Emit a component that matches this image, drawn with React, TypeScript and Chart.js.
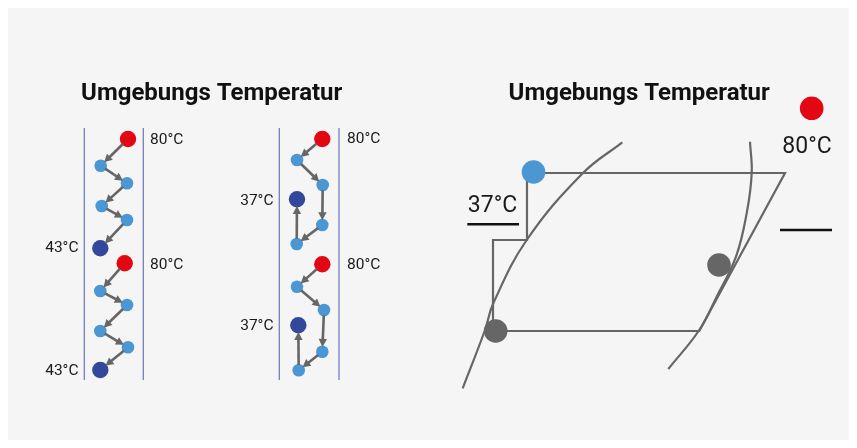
import React, { useEffect, useRef } from "react";
import { Chart, registerables } from "chart.js";

Chart.register(...registerables);

// ---- data (diagram coordinates) ----
const chainA1 = [[128, 139], [100.7, 165.7], [127, 183.3], [101.7, 206], [127, 220], [100.3, 248.3]];
const chainA2 = [[124.7, 263.3], [100.3, 291], [127, 305], [100.3, 331], [128, 347.3], [100.3, 370]];
const chainB1 = [[322.3, 139], [297, 160], [322.7, 185], [322.3, 225], [296.7, 244], [297, 199.3]];
const chainB2 = [[322.3, 264.3], [297, 286.7], [324, 310], [322.3, 351.7], [298.7, 370.3], [298.3, 325.3]];

const railX = [84.3, 143.3, 279.3, 339];
const railY = [128, 380];

const curveL = [[462.7, 388.3], [485, 330], [493.3, 303.3], [526.7, 240], [582.7, 173.3], [622.3, 142.3]];
const curveR = [[750, 141.7], [751.7, 173.3], [746.7, 213.3], [736, 256.7], [716.7, 296.7], [699.3, 330], [668.3, 369]];
const cycle = [[527, 173], [785, 173], [699.3, 331], [493, 331], [493, 240], [527, 240], [527, 173]];
const statePts = [[533.5, 172], [719, 265], [495.7, 331], [811.7, 108.3]];
const stateKinds = ["warm", "gray", "gray", "hot"];
const barA = [[467.3, 224.3], [519, 224.3]];
const barB = [[780, 230], [832, 230]];

const titleText = ["Umgebungs Temperatur", "Umgebungs Temperatur"];
const titleX = [211.7, 639.2];
const titleY = [93.5, 93.5];

const labelText = ["80°C", "43°C", "80°C", "43°C", "80°C", "37°C", "80°C", "37°C", "80°C", "37°C"];
const labelX = [150, 78.5, 150, 78.5, 347, 273.5, 347, 273.5, 807, 492.5];
const labelY = [140, 248, 265.5, 371, 139.5, 201, 265, 326, 147.3, 206.7];
const labelAlign = ["left", "right", "left", "right", "left", "right", "left", "right", "center", "center"];
const labelBig = [false, false, false, false, false, false, false, false, true, true];

// ---- styles ----
const RED = "#e30613";
const LIGHT = "#4a97d4";
const DARK = "#33479b";
const GRAY = "#666666";
const RAIL = "#7480bf";
const BG = "#f5f5f5";

const toPts = (arr: number[][]) => arr.map(([x, y]) => ({ x, y }));

const chainColor = (i: number, n: number) => (i === 0 ? RED : i === n - 1 ? DARK : LIGHT);
const chainRadius = (i: number, n: number) => (i === 0 || i === n - 1 ? 8.2 : 6.3);

const stateColor = (k: string) => (k === "hot" ? RED : k === "warm" ? LIGHT : GRAY);

const diagramPlugin = {
  id: "diagramDecor",
  afterDatasetsDraw(chart: any) {
    const ctx = chart.ctx;
    const xs = chart.scales.x;
    const ys = chart.scales.y;
    // arrows
    chart.data.datasets.forEach((ds: any, di: number) => {
      if (!ds.arrowChain) return;
      const meta = chart.getDatasetMeta(di);
      const n = meta.data.length;
      for (let j = 0; j < n - 1; j++) {
        const p = meta.data[j];
        const q = meta.data[j + 1];
        const dx = q.x - p.x;
        const dy = q.y - p.y;
        const len = Math.hypot(dx, dy);
        const ux = dx / len;
        const uy = dy / len;
        const r1 = chainRadius(j, n);
        const r2 = chainRadius(j + 1, n);
        const sx = p.x + ux * (r1 - 1);
        const sy = p.y + uy * (r1 - 1);
        const ex = q.x - ux * (r2 - 1.5);
        const ey = q.y - uy * (r2 - 1.5);
        const hl = 8;
        const hw = 4.2;
        const bx = ex - ux * hl;
        const by = ey - uy * hl;
        ctx.save();
        ctx.strokeStyle = GRAY;
        ctx.fillStyle = GRAY;
        ctx.lineWidth = 2.6;
        ctx.beginPath();
        ctx.moveTo(sx, sy);
        ctx.lineTo(bx + ux * 1, by + uy * 1);
        ctx.stroke();
        ctx.beginPath();
        ctx.moveTo(ex, ey);
        ctx.lineTo(bx - uy * hw, by + ux * hw);
        ctx.lineTo(bx + uy * hw, by - ux * hw);
        ctx.closePath();
        ctx.fill();
        ctx.restore();
      }
    });
    // titles
    ctx.save();
    ctx.fillStyle = "#111111";
    ctx.textBaseline = "middle";
    ctx.textAlign = "center";
    ctx.font = "bold 24px Roboto, 'Noto Sans', sans-serif";
    titleText.forEach((t, i) => {
      ctx.fillText(t, xs.getPixelForValue(titleX[i]), ys.getPixelForValue(titleY[i]));
    });
    // labels
    labelText.forEach((t, i) => {
      ctx.font = labelBig[i] ? "23px Roboto, sans-serif" : "15.5px Roboto, sans-serif";
      ctx.fillStyle = "#1a1a1a";
      ctx.textAlign = labelAlign[i] as CanvasTextAlign;
      ctx.fillText(t, xs.getPixelForValue(labelX[i]), ys.getPixelForValue(labelY[i]));
    });
    ctx.restore();
  },
};

export default function App() {
  const ref = useRef<HTMLCanvasElement | null>(null);

  useEffect(() => {
    if (!ref.current) return;
    const chains = [chainA1, chainA2, chainB1, chainB2];
    const datasets: any[] = [];

    chains.forEach((c) => {
      const n = c.length;
      datasets.push({
        data: toPts(c),
        arrowChain: true,
        showLine: false,
        pointRadius: c.map((_, i) => chainRadius(i, n)),
        pointBackgroundColor: c.map((_, i) => chainColor(i, n)),
        pointBorderWidth: 0,
        pointBorderColor: "transparent",
        order: 0,
      });
    });

    datasets.push({
      data: toPts(statePts),
      showLine: false,
      pointRadius: 11.8,
      pointBackgroundColor: stateKinds.map(stateColor),
      pointBorderWidth: 0,
      pointBorderColor: "transparent",
      order: 0,
    });

    railX.forEach((x) => {
      datasets.push({
        data: railY.map((y) => ({ x, y })),
        showLine: true,
        borderColor: RAIL,
        borderWidth: 1.3,
        pointRadius: 0,
        order: 2,
      });
    });

    [curveL, curveR].forEach((c) => {
      datasets.push({
        data: toPts(c),
        showLine: true,
        borderColor: GRAY,
        borderWidth: 2.2,
        pointRadius: 0,
        tension: 0.4,
        order: 2,
      });
    });

    datasets.push({
      data: toPts(cycle),
      showLine: true,
      borderColor: GRAY,
      borderWidth: 2.2,
      pointRadius: 0,
      tension: 0,
      order: 2,
    });

    [barA, barB].forEach((b) => {
      datasets.push({
        data: toPts(b),
        showLine: true,
        borderColor: "#111111",
        borderWidth: 2.6,
        pointRadius: 0,
        order: 2,
      });
    });

    const chart = new Chart(ref.current, {
      type: "scatter",
      data: { datasets },
      options: {
        animation: false,
        responsive: false,
        devicePixelRatio: 1,
        layout: { padding: 0, autoPadding: false },
        events: [],
        plugins: {
          legend: { display: false },
          tooltip: { enabled: false },
          title: { display: false },
        },
        scales: {
          x: { type: "linear", min: 8, max: 849, display: false },
          y: { type: "linear", min: 8, max: 440, reverse: true, display: false },
        },
      } as any,
      plugins: [diagramPlugin],
    });
    return () => chart.destroy();
  }, []);

  return (
    <div style={{ width: 841, height: 432, background: BG }}>
      <canvas ref={ref} width={841} height={432} style={{ display: "block" }} />
    </div>
  );
}
